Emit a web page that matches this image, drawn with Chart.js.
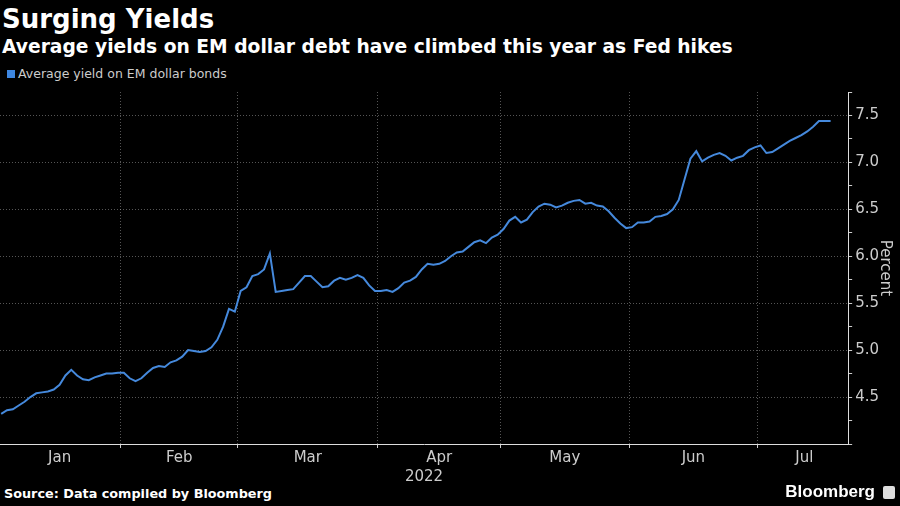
<!DOCTYPE html>
<html>
<head>
<meta charset="utf-8">
<script src="https://cdn.jsdelivr.net/npm/chart.js@4"></script>
<style>
  body { margin: 0; background: #000; width: 900px; height: 506px; overflow: hidden; position: relative; font-family: "DejaVu Sans", sans-serif; }
  .title { position: absolute; left: 2px; top: 4px; color: #fff; font-weight: bold; font-size: 26px; }
  .subtitle { position: absolute; left: 2px; top: 36px; color: #fff; font-weight: bold; font-size: 18.7px; }
  .legend { position: absolute; left: 7px; top: 66px; color: #ccc; font-size: 12.5px; }
  .legend i { display: inline-block; width: 8px; height: 8px; background: #3d86e0; margin-right: 3px; }
  .source { position: absolute; left: 4px; top: 486px; color: #fff; font-weight: bold; font-size: 12.8px; }
  .brand { position: absolute; right: 25px; top: 482px; color: #fff; font-weight: bold; font-size: 17px; font-family: "Liberation Sans", sans-serif; }
  .brand-icon { position: absolute; right: 5px; top: 486px; width: 12px; height: 13px; background: #ddd; border-radius: 2px; }
  #wrap { position: absolute; left: 0; top: 80px; width: 895px; height: 406px; }
</style>
</head>
<body>
<div class="title">Surging Yields</div>
<div class="subtitle">Average yields on EM dollar debt have climbed this year as Fed hikes</div>
<div class="legend"><i></i>Average yield on EM dollar bonds</div>
<div id="wrap"><canvas id="chart"></canvas></div>
<div class="source">Source: Data compiled by Bloomberg</div>
<div class="brand">Bloomberg</div>
<div class="brand-icon"></div>

<script>
// data: one value per trading day, Jan 3 - mid Jul 2022
const yields = [
  4.32, 4.36, 4.37, 4.41, 4.45, 4.50, 4.54, 4.55, 4.56, 4.58,
  4.63, 4.73, 4.79, 4.73, 4.69, 4.68, 4.71, 4.73, 4.75, 4.75,
  4.76, 4.76, 4.70, 4.67, 4.70, 4.76, 4.81, 4.83, 4.82, 4.87,
  4.89, 4.93, 5.00, 4.99, 4.98, 4.99, 5.03, 5.11, 5.25, 5.44,
  5.41, 5.63, 5.67, 5.79, 5.81, 5.86, 6.03, 5.62, 5.63, 5.64,
  5.65, 5.72, 5.79, 5.79, 5.73, 5.67, 5.68, 5.74, 5.77, 5.75,
  5.77, 5.80, 5.77, 5.69, 5.63, 5.63, 5.64, 5.62, 5.66, 5.72,
  5.74, 5.78, 5.86, 5.92, 5.91, 5.92, 5.95, 6.00, 6.04, 6.05,
  6.10, 6.15, 6.17, 6.14, 6.20, 6.23, 6.29, 6.38, 6.42, 6.36,
  6.39, 6.47, 6.53, 6.56, 6.55, 6.52, 6.54, 6.57, 6.59, 6.60,
  6.56, 6.57, 6.54, 6.53, 6.48, 6.41, 6.35, 6.30, 6.31, 6.36,
  6.36, 6.37, 6.42, 6.43, 6.45, 6.50, 6.60, 6.82, 7.04, 7.12,
  7.01, 7.05, 7.08, 7.10, 7.07, 7.02, 7.05, 7.07, 7.13, 7.16,
  7.18, 7.10, 7.11, 7.15, 7.19, 7.23, 7.26, 7.29, 7.33, 7.38,
  7.44, 7.44, 7.44
];

// month labels and the index of the first trading day of each month
const months = ['Jan', 'Feb', 'Mar', 'Apr', 'May', 'Jun', 'Jul'];
const monthStarts = [0, 21, 41, 65, 86, 108, 130];
const xEnd = 145;

// y axis ticks (labels only on the half points)
const yTicks = [4.0, 4.25, 4.5, 4.75, 5.0, 5.25, 5.5, 5.75, 6.0, 6.25, 6.5, 6.75, 7.0, 7.25, 7.5, 7.75];
const yLabels = ['4.5', '5.0', '5.5', '6.0', '6.5', '7.0', '7.5'];

const points = yields.map((v, i) => ({ x: i, y: v }));

// month label positions sit in the middle of each month
const monthMids = monthStarts.map((s, i) => {
  const e = i + 1 < monthStarts.length ? monthStarts[i + 1] : xEnd + 1;
  return (s + e) / 2 - 0.5;
});

const xTicks = [];
monthStarts.forEach((s, i) => {
  if (i > 0) xTicks.push({ value: s - 0.5, major: true });
  xTicks.push({ value: monthMids[i], label: months[i] });
});

const dotted = 'rgba(170,170,170,0.5)';
const isMajorX = v => xTicks.some(k => Math.abs(k.value - v) < 0.01 && k.major);
const isHalfY = v => Math.abs(v * 2 - Math.round(v * 2)) < 0.001 && yLabels.includes(v.toFixed(1));

new Chart(document.getElementById('chart'), {
  type: 'line',
  data: {
    datasets: [{
      data: points,
      borderColor: '#4589dc',
      borderWidth: 2,
      pointRadius: 0,
      tension: 0
    }]
  },
  options: {
    responsive: true,
    maintainAspectRatio: false,
    animation: false,
    layout: { padding: { left: 0, right: 0, top: 9, bottom: 0 } },
    plugins: { legend: { display: false }, tooltip: { enabled: false } },
    scales: {
      x: {
        type: 'linear',
        min: -0.2,
        max: xEnd,
        afterBuildTicks: axis => { axis.ticks = xTicks.map(t => ({ value: t.value })); },
        ticks: {
          autoSkip: false,
          maxRotation: 0,
          color: '#ccc',
          font: { family: 'DejaVu Sans', size: 15 },
          padding: 1,
          callback: value => {
            const t = xTicks.find(k => Math.abs(k.value - value) < 0.01);
            return t && t.label ? t.label : '';
          }
        },
        grid: {
          color: c => (c.tick && isMajorX(c.tick.value)) ? dotted : 'rgba(0,0,0,0)',
          tickColor: c => (c.tick && isMajorX(c.tick.value)) ? '#ccc' : 'rgba(0,0,0,0)',
          tickLength: 4
        },
        border: { color: '#ddd', width: 1, dash: [1, 2] },
        title: { display: true, text: '2022', color: '#ccc', font: { family: 'DejaVu Sans', size: 15 }, padding: { top: 0, bottom: 0 } }
      },
      y: {
        position: 'right',
        min: 4,
        max: 7.75,
        afterBuildTicks: axis => { axis.ticks = yTicks.map(v => ({ value: v })); },
        ticks: {
          color: '#ccc',
          font: { family: 'DejaVu Sans', size: 15 },
          padding: 3,
          callback: value => isHalfY(value) ? value.toFixed(1) : ''
        },
        grid: {
          color: c => (c.tick && isHalfY(c.tick.value)) ? dotted : 'rgba(0,0,0,0)',
          tickColor: '#ccc',
          tickLength: 4
        },
        border: { color: '#ddd', width: 1, dash: [1, 2] },
        title: { display: true, text: 'Percent', color: '#ccc', font: { family: 'DejaVu Sans', size: 15 }, padding: { top: 1, bottom: -6 } }
      }
    }
  }
});
</script>
</body>
</html>
